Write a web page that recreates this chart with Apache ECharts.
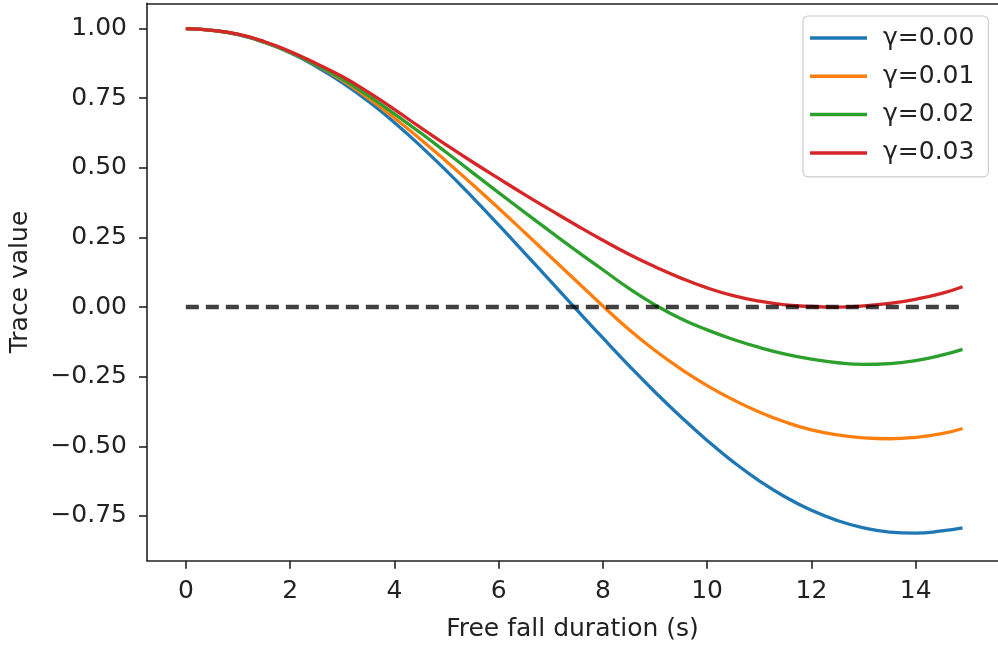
<!DOCTYPE html>
<html>
<head>
<meta charset="utf-8">
<script src="https://cdn.jsdelivr.net/npm/echarts@6/dist/echarts.min.js"></script>
<style>
  html, body { margin: 0; padding: 0; background: #fff; }
  #chart { width: 998px; height: 648px; }
</style>
</head>
<body>
<div id="chart"></div>
<script>
// ---- data ----
const tValues = [0, 0.5, 1, 1.5, 2, 2.5, 3, 3.5, 4, 4.5, 5, 5.5, 6, 6.5, 7, 7.5, 8, 8.5, 9, 9.5, 10, 10.5, 11, 11.5, 12, 12.5, 13, 13.5, 14, 14.5, 14.9];
const gamma000 = [1.000, 0.994, 0.978, 0.951, 0.913, 0.864, 0.806, 0.739, 0.663, 0.579, 0.489, 0.394, 0.295, 0.194, 0.092, -0.010, -0.111, -0.210, -0.305, -0.395, -0.479, -0.556, -0.624, -0.682, -0.730, -0.767, -0.793, -0.808, -0.812, -0.804, -0.793];
const gamma001 = [1.000, 0.994, 0.979, 0.952, 0.915, 0.869, 0.814, 0.750, 0.679, 0.603, 0.523, 0.440, 0.355, 0.268, 0.180, 0.092, 0.004, -0.081, -0.156, -0.223, -0.282, -0.333, -0.377, -0.413, -0.441, -0.459, -0.470, -0.473, -0.468, -0.455, -0.436];
const gamma002 = [1.000, 0.994, 0.979, 0.952, 0.915, 0.869, 0.819, 0.759, 0.694, 0.626, 0.555, 0.483, 0.411, 0.340, 0.270, 0.201, 0.134, 0.067, 0.008, -0.042, -0.082, -0.116, -0.145, -0.169, -0.187, -0.200, -0.206, -0.203, -0.192, -0.173, -0.152];
const gamma003 = [1.000, 0.994, 0.980, 0.954, 0.918, 0.875, 0.828, 0.772, 0.710, 0.645, 0.582, 0.521, 0.462, 0.404, 0.348, 0.293, 0.240, 0.190, 0.145, 0.104, 0.069, 0.041, 0.021, 0.008, 0.002, 0.000, 0.004, 0.013, 0.028, 0.049, 0.073];
const referenceLine = [[0, 0], [14.9, 0]];
const seriesNames = ['\u03b3=0.00', '\u03b3=0.01', '\u03b3=0.02', '\u03b3=0.03'];
const seriesColors = ['#1f77b4', '#ff7f0e', '#2ca02c', '#d62728'];
const xTicks = [0, 2, 4, 6, 8, 10, 12, 14];
const yTicks = [-0.75, -0.5, -0.25, 0, 0.25, 0.5, 0.75, 1.0];
const xTitle = 'Free fall duration (s)';
const yTitle = 'Trace value';

// ---- chart ----
const FONT = 'DejaVu Sans';
const FS = 25;
const TXT = '#222';
const SPINE = { color: '#222', width: 1.6 };
const X_MIN = -0.745, X_MAX = 15.58;
const Y_MIN = -0.911, Y_MAX = 1.091;
const allSeriesValues = [gamma000, gamma001, gamma002, gamma003];
const pair = (vals) => tValues.map((t, i) => [t, vals[i]]);

const chart = echarts.init(document.getElementById('chart'), null, { renderer: 'canvas' });
const series = allSeriesValues.map((vals, i) => ({
  name: seriesNames[i],
  type: 'line',
  data: pair(vals),
  smooth: true,
  showSymbol: false,
  symbol: 'none',
  lineStyle: { color: seriesColors[i], width: 3.3 },
  itemStyle: { color: seriesColors[i] },
  z: 2 + i
}));
series.push({
  name: 'zero',
  type: 'line',
  data: referenceLine,
  showSymbol: false,
  symbol: 'none',
  lineStyle: { color: 'rgba(0,0,0,0.75)', width: 4.5, type: [13, 7] },
  z: 10
});

chart.setOption({
  animation: false,
  backgroundColor: '#fff',
  grid: { left: 146, top: 3.3, width: 852, height: 557.4, show: false },
  legend: {
    data: seriesNames,
    icon: 'rect',
    orient: 'vertical',
    left: 803, top: 16,
    padding: [8, 14, 10, 7],
    itemWidth: 57, itemHeight: 3.5, itemGap: 10.3,
    backgroundColor: 'rgba(255,255,255,0.9)',
    borderColor: '#cccccc', borderWidth: 1.2, borderRadius: 5,
    textStyle: { fontFamily: FONT, fontSize: FS, color: TXT, lineHeight: 28, padding: [0, 0, 0, 11] }
  },
  xAxis: [{
    type: 'value', min: X_MIN, max: X_MAX,
    axisLine: { show: true, onZero: false, lineStyle: SPINE },
    axisTick: { show: true, inside: false, length: 8, customValues: xTicks, lineStyle: SPINE },
    axisLabel: { customValues: xTicks, margin: 18, fontFamily: FONT, fontSize: FS, color: TXT, formatter: v => String(v) },
    splitLine: { show: false },
    name: xTitle, nameLocation: 'middle', nameGap: 56,
    nameTextStyle: { fontFamily: FONT, fontSize: FS, color: TXT }
  }, {
    type: 'value', position: 'top', min: X_MIN, max: X_MAX,
    axisLine: { show: true, onZero: false, lineStyle: SPINE },
    axisTick: { show: false }, axisLabel: { show: false }, splitLine: { show: false }
  }],
  yAxis: {
    type: 'value', min: Y_MIN, max: Y_MAX,
    axisLine: { show: true, onZero: false, lineStyle: SPINE },
    axisTick: { show: true, inside: false, length: 8, customValues: yTicks, lineStyle: SPINE },
    axisLabel: { customValues: yTicks, margin: 20, fontFamily: FONT, fontSize: FS, color: TXT,
      formatter: v => v.toFixed(2).replace('-', '\u2212') },
    splitLine: { show: false },
    name: yTitle, nameLocation: 'middle', nameGap: 114,
    nameTextStyle: { fontFamily: FONT, fontSize: FS, color: TXT }
  },
  series: series
});
</script>
</body>
</html>
